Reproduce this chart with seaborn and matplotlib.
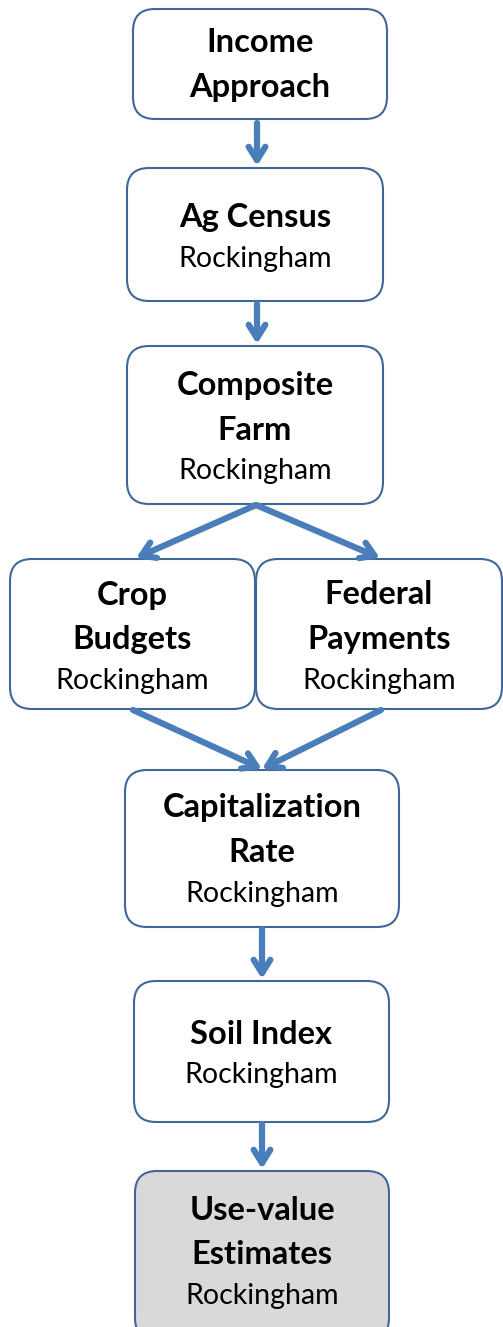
#import libraries
import matplotlib
matplotlib.use("Agg")
import matplotlib.pyplot as plt
import seaborn as sns
from matplotlib.patches import FancyBboxPatch

#flowchart content
titles = ["Income\nApproach", "Ag Census", "Composite\nFarm", "Crop\nBudgets",
          "Federal\nPayments", "Capitalization\nRate", "Soil Index", "Use-value\nEstimates"]
subtitles = ["", "Rockingham", "Rockingham", "Rockingham",
             "Rockingham", "Rockingham", "Rockingham", "Rockingham"]
links = [(0, 1), (1, 2), (2, 3), (2, 4), (3, 5), (4, 5), (5, 6), (6, 7)]

#layout in pixels (left, top, right, bottom)
boxes = [(133, 9, 387, 119), (127, 168, 383, 301), (127, 346, 383, 504),
         (10, 559, 255, 709), (256, 559, 502, 709), (125, 770, 399, 927),
         (134, 981, 389, 1122), (135, 1171, 389, 1340)]
#arrow start / end points
arrows = [((257, 123), (257, 166)), ((257, 304), (257, 344)),
          ((256, 505), (136, 558)), ((256, 505), (380, 558)),
          ((133, 710), (262, 769)), ((381, 710), (262, 769)),
          ((262, 929), (262, 979)), ((262, 1124), (262, 1169))]
fills = ["white"] * 7 + ["#d9d9d9"]
#first text line centre in each box
first_line = [43, 218, 385, 595, 595, 808, 1034, 1210]

sns.set_theme(style="white")
plt.rcParams["font.family"] = ["Lato", "DejaVu Sans"]

fig = plt.figure(figsize=(5.03, 13.27), dpi=100)
ax = fig.add_axes([0, 0, 1, 1])
ax.set_xlim(0, 503)
ax.set_ylim(1327, 0)
ax.axis("off")

edge = "#41679a"
arrow_col = "#4a7ebb"

for i, (l, t, r, b) in enumerate(boxes):
    ax.add_patch(FancyBboxPatch((l, t), r - l, b - t,
                                boxstyle="round,pad=0,rounding_size=22",
                                facecolor=fills[i], edgecolor=edge, linewidth=1.5))
    cx = (l + r) / 2
    y = first_line[i]
    for txt in titles[i].split("\n"):
        ax.text(cx, y, txt, ha="center", va="center", fontsize=23.5,
                fontweight="bold", color="black")
        y += 45
    if subtitles[i]:
        ax.text(cx, y - 4, subtitles[i], ha="center", va="center",
                fontsize=20.5, color="black")

for (x0, y0), (x1, y1) in arrows:
    ax.annotate("", xy=(x1, y1), xytext=(x0, y0),
                arrowprops=dict(arrowstyle="->,head_length=0.8,head_width=0.5",
                                color=arrow_col, lw=4.5, shrinkA=0, shrinkB=0))

plt.savefig("out.png", dpi=100)
